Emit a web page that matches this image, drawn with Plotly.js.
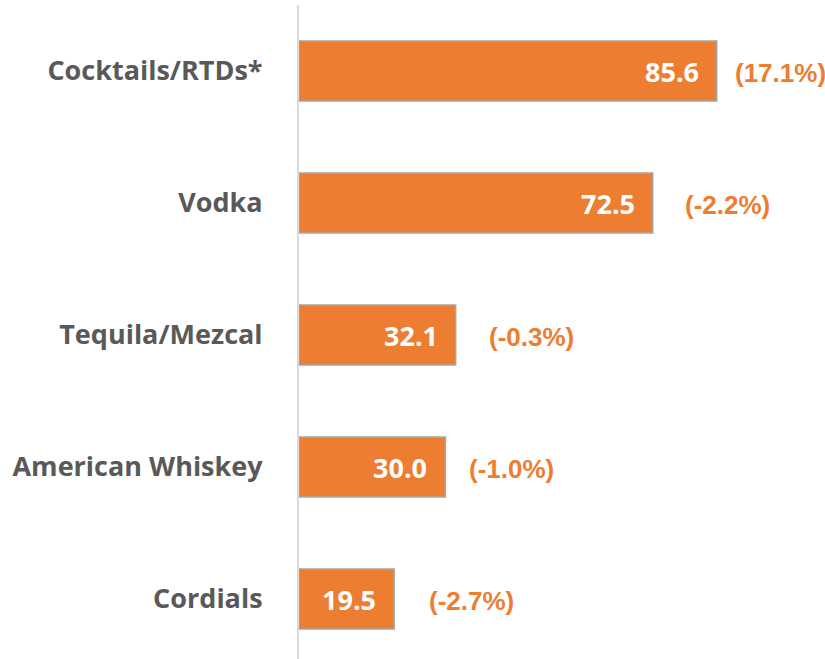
<!DOCTYPE html>
<html>
<head>
<meta charset="utf-8">
<script src="https://cdn.plot.ly/plotly-3.0.1.min.js"></script>
<style>html,body{margin:0;padding:0;background:#fff;}#chart{width:825px;height:659px;}</style>
</head>
<body>
<div id="chart"></div>
<script>
const categories = ["Cocktails/RTDs*", "Vodka", "Tequila/Mezcal", "American Whiskey", "Cordials"];
const values = [85.6, 72.5, 32.1, 30.0, 19.5];
const changeLabels = ["(17.1%)", "(-2.2%)", "(-0.3%)", "(-1.0%)", "(-2.7%)"];

// layout-only: pixel gap between bar end and change label
const changeGap = [16, 30, 31, 22, 33];

const orange = "#ED7D31";
const annotations = [];
categories.forEach((c, i) => {
  annotations.push({
    x: values[i], y: c, xref: "x", yref: "y",
    text: values[i].toFixed(1), showarrow: false,
    xanchor: "right", yanchor: "middle", xshift: -16, yshift: -1,
    font: {family: "Open Sans, sans-serif", size: 27, color: "#ffffff", weight: 700}
  });
  annotations.push({
    x: values[i], y: c, xref: "x", yref: "y",
    text: changeLabels[i], showarrow: false,
    xanchor: "left", yanchor: "middle", xshift: changeGap[i], yshift: -2,
    font: {family: "Liberation Sans, Arial, sans-serif", size: 26, color: orange, weight: 700}
  });
});

const trace = {
  type: "bar", orientation: "h",
  y: categories, x: values,
  marker: {color: orange, line: {color: "#A6A6A6", width: 1.5}},
  width: 0.455,
  hoverinfo: "skip"
};

const layout = {
  width: 825, height: 659,
  margin: {l: 299, r: 38, t: 5, b: 0},
  paper_bgcolor: "#ffffff", plot_bgcolor: "#ffffff",
  showlegend: false,
  xaxis: {range: [0, 100], visible: false, fixedrange: true},
  yaxis: {
    type: "category", categoryorder: "array", categoryarray: categories,
    range: [4.455, -0.5],
    showline: true, linecolor: "#D9D9D9", linewidth: 2,
    showgrid: false, zeroline: false, ticks: "",
    ticklabelstandoff: 29,
    tickfont: {family: "Open Sans, sans-serif", size: 27, color: "#595959", weight: 700}
  },
  annotations: annotations
};

Plotly.newPlot("chart", [trace], layout, {staticPlot: true, displayModeBar: false});
</script>
</body>
</html>
